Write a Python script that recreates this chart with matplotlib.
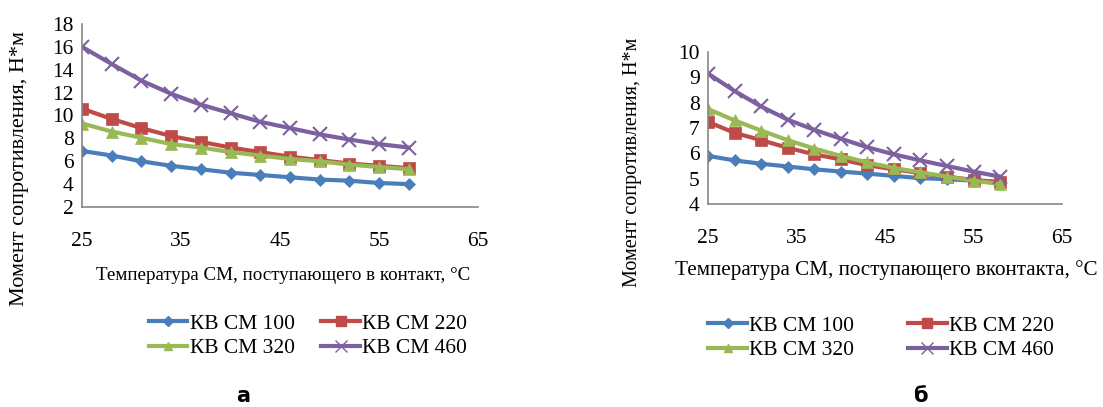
import matplotlib
matplotlib.use('Agg')
import matplotlib.pyplot as plt
from matplotlib.lines import Line2D

W, H = 1103, 407
plt.rcParams['font.family'] = ['Liberation Serif', 'DejaVu Serif']

temps = [25, 28, 31, 34, 37, 40, 43, 46, 49, 52, 55, 58]
series_names = ['КВ СМ 100', 'КВ СМ 220', 'КВ СМ 320', 'КВ СМ 460']

# panel а
a_100 = [6.9, 6.5, 6.0, 5.6, 5.3, 5.0, 4.8, 4.6, 4.4, 4.3, 4.1, 4.0]
a_220 = [10.6, 9.7, 8.9, 8.2, 7.7, 7.2, 6.8, 6.4, 6.1, 5.8, 5.6, 5.4]
a_320 = [9.3, 8.6, 8.05, 7.5, 7.2, 6.8, 6.5, 6.2, 6.0, 5.7, 5.5, 5.3]
a_460 = [16.0, 14.5, 13.05, 11.9, 10.95, 10.2, 9.45, 8.9, 8.35, 7.9, 7.5, 7.2]

# panel б
b_100 = [5.9, 5.72, 5.59, 5.48, 5.37, 5.28, 5.2, 5.11, 5.02, 4.98, 4.92, 4.86]
b_220 = [7.24, 6.81, 6.52, 6.22, 5.96, 5.76, 5.53, 5.37, 5.22, 5.08, 4.95, 4.86]
b_320 = [7.75, 7.3, 6.9, 6.52, 6.19, 5.9, 5.64, 5.42, 5.25, 5.08, 4.92, 4.79]
b_460 = [9.15, 8.46, 7.85, 7.33, 6.93, 6.58, 6.24, 5.96, 5.72, 5.5, 5.28, 5.08]

x_ticks = [25, 35, 45, 55, 65]
a_yticks = [2, 4, 6, 8, 10, 12, 14, 16, 18]
b_yticks = [4, 5, 6, 7, 8, 9, 10]

colors = ['#4A7EBB', '#BE4B48', '#98B954', '#7D60A0']
markers = ['D', 's', '^', 'x']
msizes = [6, 9, 8, 10]

fig = plt.figure(figsize=(W / 100, H / 100), dpi=100)


def px_axes(x0, y_top, x1, y_bot):
    return fig.add_axes([x0 / W, 1 - y_bot / H, (x1 - x0) / W, (y_bot - y_top) / H])


def draw_panel(ax, data, yticks):
    for vals, c, m, ms in zip(data, colors, markers, msizes):
        ax.plot(temps, vals, color=c, lw=3, marker=m, ms=ms,
                markeredgecolor=c, markeredgewidth=1.5 if m == 'x' else 0.5)
    ax.set_xlim(25, 65)
    ax.set_ylim(yticks[0], yticks[-1])
    ax.set_xticks(x_ticks)
    ax.set_yticks(yticks)
    for s in ['top', 'right']:
        ax.spines[s].set_visible(False)
    for s in ['left', 'bottom']:
        ax.spines[s].set_color('#868686')
        ax.spines[s].set_linewidth(1.2)
    ax.tick_params(axis='x', length=0, pad=18, labelsize=15.5)
    ax.tick_params(axis='y', length=0, pad=6, labelsize=15.5)
    ax.patch.set_alpha(0)


ax1 = px_axes(82, 24, 478, 207)
draw_panel(ax1, [a_100, a_220, a_320, a_460], a_yticks)
ax2 = px_axes(708, 52, 1062, 204)
draw_panel(ax2, [b_100, b_220, b_320, b_460], b_yticks)

fig.text(283 / W, 1 - 276 / H, 'Температура СМ, поступающего в контакт, °С',
         ha='center', va='center', fontsize=13.7)
fig.text(886 / W, 1 - 270 / H, 'Температура СМ, поступающего вконтакта, °С',
         ha='center', va='center', fontsize=15.2)
fig.text(20 / W, 1 - 169 / H, 'Момент сопротивления, Н*м', rotation=90,
         ha='center', va='center', fontsize=16)
fig.text(633 / W, 1 - 162 / H, 'Момент сопротивления, Н*м', rotation=90,
         ha='center', va='center', fontsize=14.5)

handles = [Line2D([], [], color=c, lw=3, marker=m, ms=ms * 0.8, markeredgecolor=c)
           for c, m, ms in zip(colors, markers, msizes)]
order = [0, 2, 1, 3]
leg_font = {'family': 'Liberation Serif', 'size': 15.5}
fig.legend([handles[i] for i in order], [series_names[i] for i in order],
           ncol=2, loc='center', bbox_to_anchor=(308 / W, 1 - 336 / H),
           frameon=False, prop=leg_font, handlelength=1.8, handletextpad=0.1,
           columnspacing=1.25, labelspacing=0.2)
fig.legend([handles[i] for i in order], [series_names[i] for i in order],
           ncol=2, loc='center', bbox_to_anchor=(881 / W, 1 - 338 / H),
           frameon=False, prop=leg_font, handlelength=1.8, handletextpad=0.1,
           columnspacing=2.5, labelspacing=0.2)

fig.text(243 / W, 1 - 396 / H, 'а', ha='center', va='center', fontsize=15,
         fontweight='bold', family='DejaVu Sans')
fig.text(920 / W, 1 - 396 / H, 'б', ha='center', va='center', fontsize=15,
         fontweight='bold', family='DejaVu Sans')

fig.savefig('out.png', dpi=100)
